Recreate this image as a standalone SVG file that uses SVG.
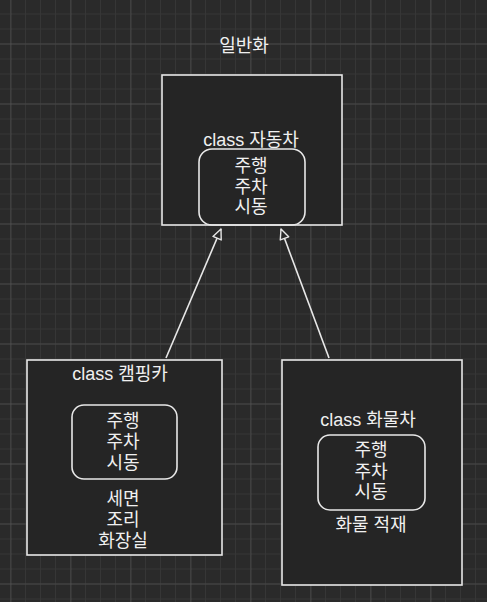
<svg xmlns="http://www.w3.org/2000/svg" width="487" height="602" viewBox="0 0 487 602">
<defs>
<pattern id="minor" x="10" y="13.5" width="15" height="15" patternUnits="userSpaceOnUse">
<path d="M0,0 V15 M0,0 H15" stroke="#363636" stroke-width="2" fill="none"/>
</pattern>
<pattern id="major" x="10.5" y="43.5" width="60" height="60" patternUnits="userSpaceOnUse">
<path d="M0,0 V60 M0,0 H60" stroke="#5c5c5c" stroke-width="1" fill="none"/>
</pattern>
<marker id="tri" viewBox="0 0 12 12" refX="11" refY="6" markerWidth="12" markerHeight="12" markerUnits="userSpaceOnUse" orient="auto">
<path d="M1,1.5 L11,6 L1,10.5 Z" fill="#2a2a2a" stroke="#e8e8e8" stroke-width="1.4" stroke-linejoin="round"/>
</marker>
</defs>
<style>
.box{fill:#252525;stroke:#e8e8e8;stroke-width:1.6}
.inner{fill:none;stroke:#e8e8e8;stroke-width:1.6}
.t{font-family:"Liberation Sans","Noto Sans CJK KR",sans-serif;font-size:18px;fill:#f0f0f0;text-anchor:middle}
.edge{stroke:#e8e8e8;stroke-width:1.6;fill:none}
</style>
<rect width="487" height="602" fill="#2a2a2a"/>
<rect width="487" height="602" fill="url(#minor)"/>
<rect width="487" height="602" fill="url(#major)"/>

<g id="label-generalization">
<text class="t" x="244" y="52">일반화</text>
</g>

<g id="node-car">
<rect class="box" x="162" y="75" width="180" height="150"/>
<text class="t" x="251" y="146">class 자동차</text>
<rect class="inner" x="199" y="149" width="106" height="76" rx="13"/>
<text class="t" x="251" y="172">주행</text>
<text class="t" x="251" y="192.5">주차</text>
<text class="t" x="251" y="213">시동</text>
</g>

<g id="node-camping">
<rect class="box" x="27" y="360" width="195" height="195"/>
<text class="t" x="120" y="380">class 캠핑카</text>
<rect class="inner" x="72" y="405" width="105" height="74" rx="12"/>
<text class="t" x="123" y="427">주행</text>
<text class="t" x="123" y="447.5">주차</text>
<text class="t" x="123" y="469">시동</text>
<text class="t" x="123" y="504.5">세면</text>
<text class="t" x="123" y="526">조리</text>
<text class="t" x="123" y="547">화장실</text>
</g>

<g id="node-truck">
<rect class="box" x="282" y="360" width="180" height="225"/>
<text class="t" x="368" y="426">class 화물차</text>
<rect class="inner" x="318" y="435" width="107" height="75" rx="12"/>
<text class="t" x="371" y="456">주행</text>
<text class="t" x="371" y="477.5">주차</text>
<text class="t" x="371" y="497.5">시동</text>
<text class="t" x="371" y="530.5">화물 적재</text>
</g>

<g id="connectors">
<path class="edge" d="M166,358 L221,229" marker-end="url(#tri)"/>
<path class="edge" d="M329,358 L281,229" marker-end="url(#tri)"/>
</g>
</svg>
